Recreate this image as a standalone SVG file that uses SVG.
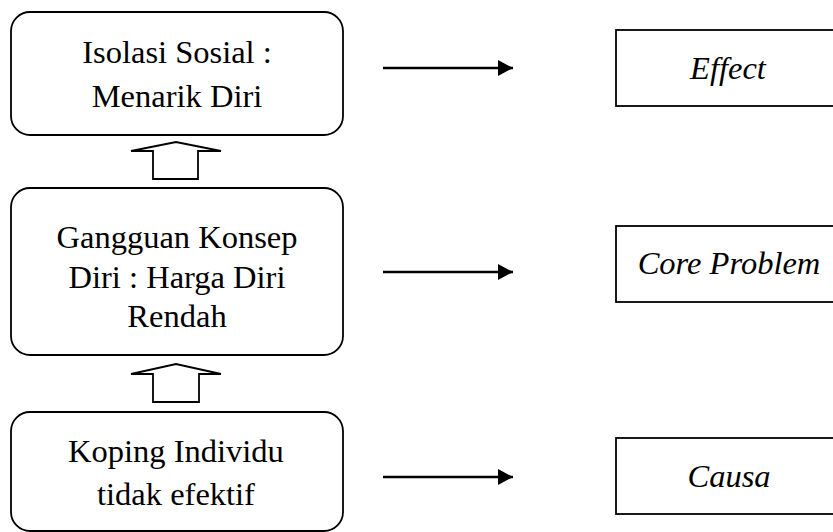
<svg xmlns="http://www.w3.org/2000/svg" width="833" height="532" viewBox="0 0 833 532">
<style>
.node rect{fill:#fff;stroke:#000;stroke-width:1.8}
.t{font-family:"Liberation Serif","Times New Roman",serif;font-size:32.5px;fill:#000;text-anchor:middle}
.i{font-style:italic}
.conn line{stroke:#000;stroke-width:2.4}
.conn path{fill:#fff;stroke:#000;stroke-width:1.8;stroke-linejoin:miter}
</style>
<defs>
<marker id="ah" markerWidth="16" markerHeight="16" refX="15" refY="8" orient="auto" markerUnits="userSpaceOnUse">
<path d="M0,0 L15,8 L0,16 Z" fill="#000"/>
</marker>
</defs>
<rect width="833" height="532" fill="#fff"/>
<g id="n-isolasi" class="node">
<rect x="11" y="12" width="332" height="123" rx="19"/>
<text class="t" x="177" y="63">Isolasi Sosial :</text>
<text class="t" x="177" y="107">Menarik Diri</text>
</g>
<g id="n-gangguan" class="node">
<rect x="11" y="188" width="332" height="167" rx="19"/>
<text class="t" x="177" y="248">Gangguan Konsep</text>
<text class="t" x="177" y="288">Diri : Harga Diri</text>
<text class="t" x="177" y="327">Rendah</text>
</g>
<g id="n-koping" class="node">
<rect x="11" y="412" width="332" height="119" rx="19"/>
<text class="t" x="176" y="462">Koping Individu</text>
<text class="t" x="176" y="505">tidak efektif</text>
</g>
<g id="n-effect" class="node">
<rect x="616" y="30" width="226" height="76"/>
<text class="t i" x="728" y="79">Effect</text>
</g>
<g id="n-core" class="node">
<rect x="616" y="226" width="226" height="76"/>
<text class="t i" x="729" y="274">Core Problem</text>
</g>
<g id="n-causa" class="node">
<rect x="616" y="438" width="226" height="76"/>
<text class="t i" x="729" y="487">Causa</text>
</g>
<g id="connectors" class="conn">
<path d="M153,179 L153,151 L131,151 L176,142 L221,151 L198,151 L198,179 Z"/>
<path d="M153,402 L153,374 L131,374 L176,364 L221,374 L199,374 L199,402 Z"/>
<line x1="383" y1="68" x2="513" y2="68" marker-end="url(#ah)"/>
<line x1="383" y1="272" x2="513" y2="272" marker-end="url(#ah)"/>
<line x1="383" y1="477" x2="513" y2="477" marker-end="url(#ah)"/>
</g>
</svg>
